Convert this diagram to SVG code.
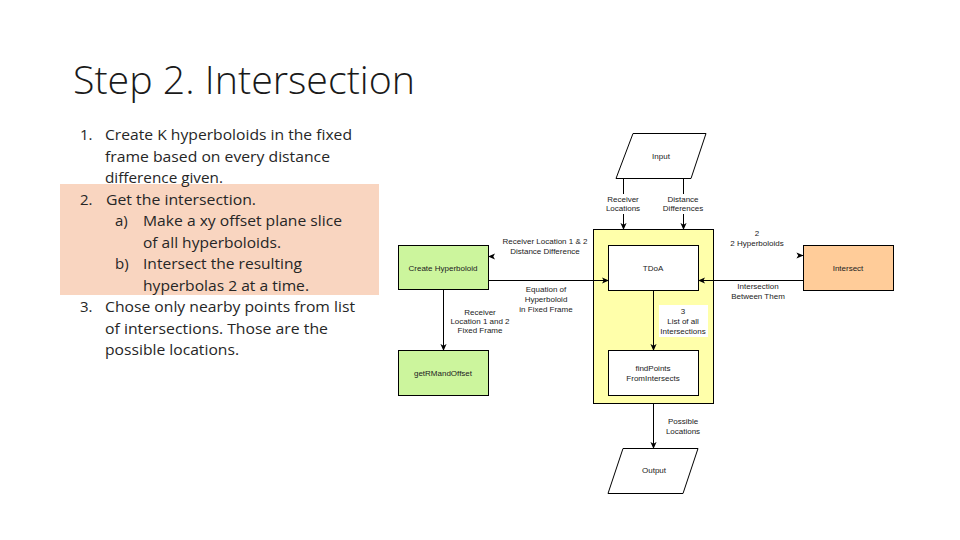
<svg xmlns="http://www.w3.org/2000/svg" width="960" height="540" viewBox="0 0 960 540">
<style>
.title{font-family:"Open Sans","Liberation Sans",sans-serif;font-weight:300;font-size:38px;fill:#1a1a1a}
.body{font-family:"Open Sans","Liberation Sans",sans-serif;font-size:15px;fill:#262626}
.lbl{font-family:"Liberation Sans",Arial,sans-serif;font-size:8px;fill:#222;text-anchor:middle}
.box{stroke:#000;stroke-width:1}
.edge{fill:none;stroke:#000;stroke-width:1}
.bg{fill:#fff}
</style>
<defs>
<marker id="arr" viewBox="0 0 8 8" refX="7.5" refY="4" markerWidth="7" markerHeight="7" markerUnits="userSpaceOnUse" orient="auto">
<path d="M0,0.5 L8,4 L0,7.5 L2,4 z" fill="#000"/>
</marker>
</defs>
<rect width="960" height="540" fill="#fff"/>
<text class="title" x="73" y="94" textLength="342" lengthAdjust="spacingAndGlyphs">Step 2. Intersection</text>
<rect x="60" y="184" width="319" height="111" fill="#F9D5C0"/>
<g id="list">
<text class="body" x="80" y="140">1.</text>
<text class="body" x="105" y="140" textLength="247" lengthAdjust="spacingAndGlyphs">Create K hyperboloids in the fixed</text>
<text class="body" x="105" y="161.5" textLength="225" lengthAdjust="spacingAndGlyphs">frame based on every distance</text>
<text class="body" x="105" y="183" textLength="118" lengthAdjust="spacingAndGlyphs">difference given.</text>
<text class="body" x="80" y="204.5">2.</text>
<text class="body" x="106" y="204.5" textLength="150" lengthAdjust="spacingAndGlyphs">Get the intersection.</text>
<text class="body" x="115" y="226">a)</text>
<text class="body" x="143" y="226" textLength="199" lengthAdjust="spacingAndGlyphs">Make a xy offset plane slice</text>
<text class="body" x="143" y="247.5" textLength="138" lengthAdjust="spacingAndGlyphs">of all hyperboloids.</text>
<text class="body" x="115" y="269">b)</text>
<text class="body" x="143" y="269" textLength="159" lengthAdjust="spacingAndGlyphs">Intersect the resulting</text>
<text class="body" x="143" y="290.5" textLength="166" lengthAdjust="spacingAndGlyphs">hyperbolas 2 at a time.</text>
<text class="body" x="80" y="312">3.</text>
<text class="body" x="105" y="312" textLength="250" lengthAdjust="spacingAndGlyphs">Chose only nearby points from list</text>
<text class="body" x="105" y="333.5" textLength="223" lengthAdjust="spacingAndGlyphs">of intersections. Those are the</text>
<text class="body" x="105" y="355" textLength="134" lengthAdjust="spacingAndGlyphs">possible locations.</text>
</g>
<g id="container">
<rect class="box" x="593.5" y="229.5" width="120" height="174" fill="#FFFFAA"/>
</g>
<g id="input">
<polygon class="box" points="633,133.5 706,133.5 691,178.5 616,178.5" fill="#fff"/>
<text class="lbl" x="661" y="159">Input</text>
</g>
<g id="tdoa">
<rect class="box" x="608.5" y="245.5" width="90" height="45" fill="#fff"/>
<text class="lbl" x="653" y="271">TDoA</text>
</g>
<g id="findpoints">
<rect class="box" x="608.5" y="350.5" width="90" height="45" fill="#fff"/>
<text class="lbl" x="653" y="371">findPoints</text>
<text class="lbl" x="653" y="381">FromIntersects</text>
</g>
<g id="create">
<rect class="box" x="398.5" y="245.5" width="90" height="44" fill="#CCF59D"/>
<text class="lbl" x="443" y="271">Create Hyperboloid</text>
</g>
<g id="getrm">
<rect class="box" x="398.5" y="350.5" width="90" height="45" fill="#CCF59D"/>
<text class="lbl" x="443" y="376">getRMandOffset</text>
</g>
<g id="intersect">
<rect class="box" x="803.5" y="245.5" width="90" height="45" fill="#FFCC99"/>
<text class="lbl" x="848" y="271">Intersect</text>
</g>
<g id="output">
<polygon class="box" points="623,448.5 698,448.5 683,493.5 608,493.5" fill="#fff"/>
<text class="lbl" x="654" y="473">Output</text>
</g>
<g id="connectors">
<path class="edge" d="M623.5 178.5 L623.5 229.5" marker-end="url(#arr)"/>
<path class="edge" d="M683.5 178.5 L683.5 229.5" marker-end="url(#arr)"/>
<path class="edge" d="M488.5 280.5 L608.5 280.5" marker-end="url(#arr)"/>
<path class="edge" d="M490 256.5 L488.5 256.5" stroke="none" marker-end="url(#arr)"/>
<path class="edge" d="M801 255.5 L803 255.5" stroke="none" marker-end="url(#arr)"/>
<path class="edge" d="M803.5 280.5 L698.5 280.5" marker-end="url(#arr)"/>
<path class="edge" d="M443.5 289.5 L443.5 350.5" marker-end="url(#arr)"/>
<path class="edge" d="M653.5 290.5 L653.5 350.5" marker-end="url(#arr)"/>
<path class="edge" d="M653.5 403.5 L653.5 448.5" marker-end="url(#arr)"/>
<rect class="bg" x="604" y="194" width="39" height="20"/>
<text class="lbl" x="623" y="202">Receiver</text>
<text class="lbl" x="623" y="211">Locations</text>
<rect class="bg" x="661" y="194" width="45" height="20"/>
<text class="lbl" x="683" y="202">Distance</text>
<text class="lbl" x="683" y="211">Differences</text>
<text class="lbl" x="545" y="244">Receiver Location 1 &amp; 2</text>
<text class="lbl" x="545" y="254">Distance Difference</text>
<text class="lbl" x="546" y="292">Equation of</text>
<text class="lbl" x="546" y="302">Hyperboloid</text>
<text class="lbl" x="546" y="312">in Fixed Frame</text>
<text class="lbl" x="480" y="315">Receiver</text>
<text class="lbl" x="480" y="324">Location 1 and 2</text>
<text class="lbl" x="480" y="333">Fixed Frame</text>
<rect class="bg" x="659" y="305" width="49" height="32"/>
<text class="lbl" x="683" y="314">3</text>
<text class="lbl" x="683" y="324">List of all</text>
<text class="lbl" x="683" y="334">Intersections</text>
<text class="lbl" x="757" y="236">2</text>
<text class="lbl" x="757" y="246">2 Hyperboloids</text>
<text class="lbl" x="758" y="289">Intersection</text>
<text class="lbl" x="758" y="299">Between Them</text>
<text class="lbl" x="683" y="424">Possible</text>
<text class="lbl" x="683" y="434">Locations</text>
</g>
</svg>
